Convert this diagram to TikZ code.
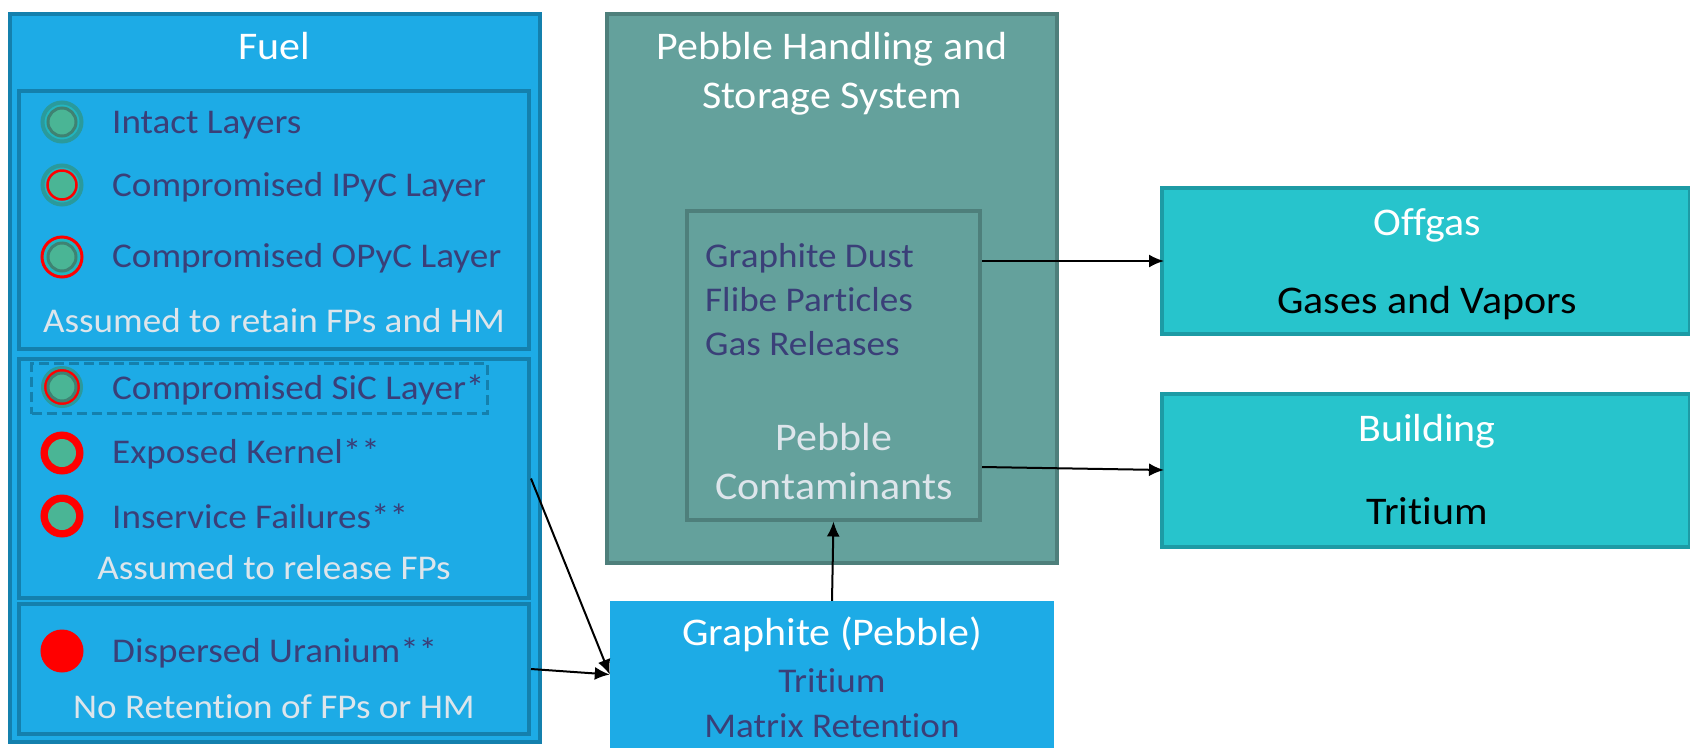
\documentclass[tikz,border=0pt]{standalone}
\usepackage{fontspec}
\setmainfont[FakeStretch=1.07,Ligatures=NoCommon]{Carlito}
\usetikzlibrary{arrows.meta}
\definecolor{fuelblue}{HTML}{1DABE6}
\definecolor{fueledge}{HTML}{1480AD}
\definecolor{pebblegreen}{HTML}{64A19C}
\definecolor{pebbleedge}{HTML}{4E7F7B}
\definecolor{gasteal}{HTML}{27C4CC}
\definecolor{gasedge}{HTML}{1D9BA5}
\definecolor{labeldark}{HTML}{3A3F78}
\definecolor{labellight}{HTML}{DDE5EB}
\definecolor{coatteal}{HTML}{2A9A9C}
\definecolor{coatlight}{HTML}{22B5BE}
\definecolor{coredark}{HTML}{3F8272}
\definecolor{coregreen}{HTML}{4AB595}
\tikzset{
    boxfuel/.style={shape=rectangle,draw=fueledge,fill=fuelblue,line width=4pt,inner sep=0pt},
    boxpebble/.style={shape=rectangle,draw=pebbleedge,fill=pebblegreen,line width=4pt,inner sep=0pt},
    boxgas/.style={shape=rectangle,draw=gasedge,fill=gasteal,line width=4pt,inner sep=0pt},
    title/.style={text=white,font=\fontsize{39.2}{49}\selectfont,align=center,inner sep=0pt},
    item/.style={text=labeldark,font=\fontsize{34.7}{44}\selectfont,inner sep=0pt},
    note/.style={text=labellight,font=\fontsize{34.7}{44}\selectfont,inner sep=0pt},
    coat/.style={shape=circle,minimum size=39pt,inner sep=0pt,fill=coatlight,draw=coatteal,line width=4pt},
    core/.style={shape=circle,minimum size=28pt,inner sep=0pt,fill=coregreen,draw=coredark,line width=3pt},
    flow/.style={-{Latex[length=15pt,width=13pt]},line width=2pt,black},
}
\begin{document}
\begin{tikzpicture}[x=1pt,y=-1pt]
    \useasboundingbox (0,0) rectangle (1690,748);

    \node[boxfuel,minimum width=530,minimum height=728] (fuel) at (275,378) {};
    \node[boxfuel,minimum width=510,minimum height=258] (retain) at (274,220) {};
    \node[boxfuel,minimum width=510,minimum height=239] (release) at (274,478.5) {};
    \node[boxfuel,minimum width=510,minimum height=130] (dispersed) at (274,669) {};
    \node[shape=rectangle,draw=fueledge,dash pattern=on 10pt off 5pt,line width=3pt,minimum width=456,minimum height=50,inner sep=0pt] (sic) at (259.5,388.5) {};

    \node[boxpebble,minimum width=450,minimum height=549] (handling) at (832,288) {};
    \node[boxpebble,minimum width=293,minimum height=309] (contaminants) at (833.5,365) {};
    \node[shape=rectangle,fill=fuelblue,minimum width=444,minimum height=147,inner sep=0pt] (graphite) at (832,674.5) {};
    \node[boxgas,minimum width=528,minimum height=146] (offgas) at (1426,261) {};
    \node[boxgas,minimum width=528,minimum height=153] (building) at (1426,470.5) {};

    \node[title,anchor=base] (fueltitle) at (274,59) {Fuel};
    \node[coat] (intactcoat) at (62,122) {};
    \node[core] (intactcore) at (62,122) {};
    \node[coat] (ipyccoat) at (62,185) {};
    \node[core,draw=red,line width=2.5pt,minimum size=29pt] (ipyccore) at (62,185) {};
    \node[coat,draw=red,line width=3pt,minimum size=40pt] (opyccoat) at (62,257) {};
    \node[core] (opyccore) at (62,257) {};
    \node[coat,fill=red,line width=3pt,draw=coatteal] (siccoat) at (62,387) {};
    \node[core] (siccore) at (62,387) {};
    \node[coat,fill=red,draw=red] (kernelcoat) at (62,453) {};
    \node[core,draw=none] (kernelcore) at (62,453) {};
    \node[coat,fill=red,draw=red] (inservicecoat) at (62,516) {};
    \node[core,draw=none] (inservicecore) at (62,516) {};
    \node[coat,fill=red,draw=red] (uranium) at (62,651) {};

    \node[item,anchor=base west] (intact) at (112,133) {Intact Layers};
    \node[item,anchor=base west] (ipyc) at (112,196) {Compromised IPyC Layer};
    \node[item,anchor=base west] (opyc) at (112,267) {Compromised OPyC Layer};
    \node[note,anchor=base] (retainnote) at (274,332) {Assumed to retain FPs and HM};
    \node[item,anchor=base west] (siclabel) at (112,399) {Compromised SiC Layer*};
    \node[item,anchor=base west] (kernel) at (112,463) {Exposed Kernel**};
    \node[item,anchor=base west] (inservice) at (112,528) {Inservice Failures**};
    \node[note,anchor=base] (releasenote) at (274,579) {Assumed to release FPs};
    \node[item,anchor=base west] (uraniumlabel) at (112,662) {Dispersed Uranium**};
    \node[note,anchor=base] (dispersednote) at (274,718) {No Retention of FPs or HM};

    \node[title] (handlingtitle) at (832,74) {Pebble Handling and\\Storage System};
    \node[item,anchor=base west] (dust) at (705,267) {Graphite Dust};
    \node[item,anchor=base west] (flibe) at (705,311) {Flibe Particles};
    \node[item,anchor=base west] (gas) at (705,355) {Gas Releases};
    \node[title,text=labellight] (contaminantstitle) at (834,462) {Pebble\\Contaminants};
    \node[title,anchor=base] (graphitetitle) at (832,645) {Graphite (Pebble)};
    \node[item,anchor=base] (tritium) at (832,692) {Tritium};
    \node[item,anchor=base] (matrix) at (832,737) {Matrix Retention};
    \node[title,anchor=base] (offgastitle) at (1427,235) {Offgas};
    \node[title,anchor=base,text=black] (vapors) at (1427,313) {Gases and Vapors};
    \node[title,anchor=base] (buildingtitle) at (1427,441) {Building};
    \node[title,anchor=base,text=black] (buildingtritium) at (1427,524) {Tritium};

    \coordinate (gasout) at (982,261);
    \coordinate (airout) at (982,467);
    \coordinate (offgasin) at (1164,261);
    \coordinate (buildingin) at (1164,470);

    \path [flow](release.east) edge (graphite.west);
    \path [flow](dispersed.east) edge (graphite.west);
    \path [flow](graphite.north) edge (contaminants.south);
    \path [flow](gasout) edge (offgasin);
    \path [flow](airout) edge (buildingin);

\end{tikzpicture}
\end{document}
